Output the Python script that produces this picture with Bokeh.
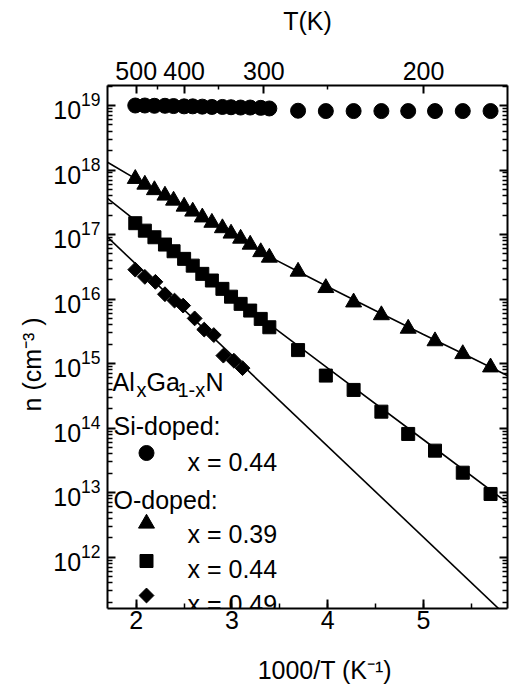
import numpy as np
from bokeh.plotting import figure
from bokeh.models import LinearAxis, LogAxis, FixedTicker, SingleIntervalTicker, Label
from bokeh.embed import file_html
from bokeh.resources import INLINE

# ---------------- data ----------------
x_dense = [1.99, 2.09, 2.19, 2.30, 2.39, 2.50, 2.59, 2.69, 2.79, 2.90, 2.99, 3.09, 3.19, 3.30, 3.39]
x_sparse = [3.69, 3.98, 4.27, 4.56, 4.84, 5.12, 5.41, 5.70]

si044_x = x_dense + x_sparse
si044_n = [1.0e19, 1.0e19, 0.99e19, 0.99e19, 0.98e19, 0.97e19, 0.97e19, 0.96e19, 0.95e19,
           0.95e19, 0.94e19, 0.93e19, 0.93e19, 0.92e19, 0.90e19,
           8.3e18, 8.2e18, 8.2e18, 8.2e18, 8.2e18, 8.2e18, 8.2e18, 8.2e18]

o039_x = x_dense + x_sparse
o039_n = [7.31e17, 5.96e17, 4.90e17, 4.03e17, 3.37e17, 2.72e17, 2.28e17, 1.85e17, 1.53e17,
          1.26e17, 1.04e17, 8.67e16, 7.00e16, 5.36e16, 4.40e16,
          2.67e16, 1.49e16, 8.91e15, 5.65e15, 3.49e15, 2.23e15, 1.41e15, 8.77e14]

o044_x = x_dense + x_sparse
o044_n = [1.50e17, 1.15e17, 9.08e16, 7.00e16, 5.51e16, 4.20e16, 3.30e16, 2.46e16, 1.94e16,
          1.44e16, 1.09e16, 8.43e15, 6.64e15, 4.93e15, 3.66e15,
          1.62e15, 6.52e14, 3.91e14, 1.80e14, 8.13e13, 4.48e13, 2.04e13, 9.55e12]

o049_x = [1.99, 2.09, 2.20, 2.30, 2.40, 2.49, 2.61, 2.71, 2.81, 2.91, 3.02, 3.11]
o049_n = [2.86e16, 2.21e16, 1.85e16, 1.19e16, 9.48e15, 7.93e15, 5.02e15, 3.37e15,
          2.77e15, 1.33e15, 1.11e15, 8.51e14]

# fit curves (read points along the drawn lines)
fit039_x = [1.70, 2.0, 2.5, 3.0, 3.4, 3.7, 4.0, 4.5, 5.0, 5.5, 5.88]
fit039_n = [1.32e18, 7.24e17, 2.69e17, 1.0e17, 4.47e16, 2.63e16, 1.55e16, 6.61e15, 2.82e15, 1.23e15, 6.46e14]
fit044_x = [1.70, 2.0, 3.0, 3.4, 4.0, 5.0, 5.88]
fit044_n = [3.63e17, 1.62e17, 1.15e16, 3.98e15, 8.51e14, 6.61e13, 6.92e12]
fit049_x = [1.70, 5.88]
fit049_n = [9.12e16, 1.17e11]

# axis ticks
T_ticks = [500, 400, 300, 200]
T_minor = [450, 350, 250]
y_major = [1e12, 1e13, 1e14, 1e15, 1e16, 1e17, 1e18, 1e19]

# ---------------- layout ----------------
FONT = "Liberation Sans"
FS = "25px"
X0, X1 = 1.70, 5.877
LY0, LY1 = 11.205, 19.31
FL, FT, FW, FH = 107, 85, 400, 523   # frame in page pixels (for annotation placement)

def fx(px):
    return X0 + (px - FL) / FW * (X1 - X0)

def fy(py):
    return 10 ** (LY1 - (py - FT) / FH * (LY1 - LY0))

p = figure(frame_width=FW, frame_height=FH, x_range=(X0, X1), y_range=(10**LY0, 10**LY1),
           y_axis_type="log", output_backend="svg", toolbar_location=None,
           min_border_left=107, min_border_right=3, min_border_top=85, min_border_bottom=84)
p.background_fill_color = "white"
p.border_fill_color = "white"
p.outline_line_color = None
p.xgrid.visible = False
p.ygrid.visible = False

minor_y = [m * 10.0**k for k in range(11, 20) for m in range(2, 10)]

def style(ax, maj_in, min_in):
    ax.axis_line_width = 2
    ax.axis_line_color = "black"
    ax.major_tick_in = maj_in
    ax.major_tick_out = 0
    ax.minor_tick_in = min_in
    ax.minor_tick_out = 0
    ax.major_tick_line_width = 2
    ax.minor_tick_line_width = 1.5
    ax.major_tick_line_color = "black"
    ax.minor_tick_line_color = "black"
    ax.major_label_text_font = FONT
    ax.major_label_text_font_size = FS
    ax.major_label_text_color = "black"
    ax.axis_label_text_font = FONT
    ax.axis_label_text_font_size = FS
    ax.axis_label_text_font_style = "normal"
    ax.axis_label_text_color = "black"

# bottom
xb = p.xaxis[0]
xb.ticker = SingleIntervalTicker(interval=1, num_minor_ticks=2)
style(xb, 9, 5)
xb.major_label_standoff = 2
xb.axis_label = "\u00a0\u00a0\u00a0\u00a0\u00a01000/T (K\u207b\u00b9)"
xb.axis_label_standoff = 24

# left
yl = p.yaxis[0]
yl.ticker = FixedTicker(ticks=y_major, minor_ticks=minor_y)
style(yl, 8, 5)
yl.major_label_standoff = 7
yl.axis_label = "n (cm\u207b\u00b3 )\u00a0\u00a0\u00a0\u00a0\u00a0"
yl.axis_label_standoff = 4

# top: temperature
tick_pos = [1000.0 / t for t in T_ticks]
top = LinearAxis(ticker=FixedTicker(ticks=tick_pos, minor_ticks=[1000.0 / t for t in T_minor]),
                 major_label_overrides={v: str(t) for v, t in zip(tick_pos, T_ticks)},
                 axis_label="T(K)")
style(top, 8, 4)
top.major_label_standoff = 6
top.axis_label_standoff = 24
p.add_layout(top, "above")

# right
right = LogAxis(ticker=FixedTicker(ticks=y_major, minor_ticks=minor_y),
                major_label_overrides={v: "" for v in y_major})
style(right, 8, 5)
right.major_label_text_font_size = "0px"
right.major_label_standoff = 0
p.add_layout(right, "right")

# fit lines
for fxs, fns in [(fit039_x, fit039_n), (fit044_x, fit044_n), (fit049_x, fit049_n)]:
    p.line(fxs, fns, line_color="black", line_width=1.6)

# data
p.scatter(si044_x, si044_n, marker="circle", size=15, color="black")
p.scatter(o039_x, o039_n, marker="triangle", size=16, color="black")
p.scatter(o044_x, o044_n, marker="square", size=13, color="black")
p.scatter(o049_x, o049_n, marker="square", angle=np.pi / 4, size=10.5, color="black")

# legend (text annotations)
def lab(text, px, py, size=FS):
    p.add_layout(Label(x=fx(px), y=fy(py), text=text, text_font=FONT, text_font_size=size,
                       text_color="black", text_align="left", text_baseline="alphabetic"))

lab("Al", 112, 381)
lab("x", 136, 389, "20px")
lab("Ga", 146, 381)
lab("1-x", 177, 389, "20px")
lab("N", 205, 381)
lab("Si-doped:", 113, 425)
lab("x = 0.44", 187, 461.5)
lab("O-doped:", 113, 499)
lab("x = 0.39", 187, 533.5)
lab("x = 0.44", 187, 568)
lab("x = 0.49", 187, 603)

p.scatter([fx(146)], [fy(452.5)], marker="circle", size=15, color="black")
p.scatter([fx(146)], [fy(523)], marker="triangle", size=16, color="black")
p.scatter([fx(146)], [fy(560.5)], marker="square", size=13, color="black")
p.scatter([fx(146)], [fy(595)], marker="square", angle=np.pi / 4, size=10.5, color="black")

open("out.html", "w").write(file_html(p, INLINE))
